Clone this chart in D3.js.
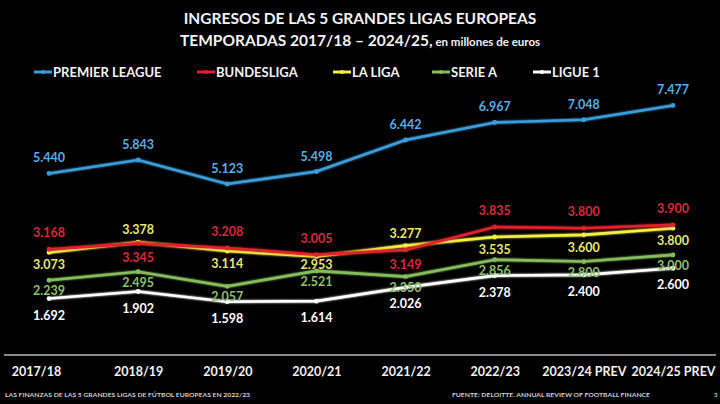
<!DOCTYPE html>
<html><head><meta charset="utf-8">
<script src="https://cdnjs.cloudflare.com/ajax/libs/d3/7.8.5/d3.min.js"></script>
<style>
html,body{margin:0;padding:0;background:#000;}
svg{display:block;}
text{font-family:Lato,"Open Sans",sans-serif;font-weight:700;}
</style></head><body>
<svg id="c" width="720" height="404"></svg>
<script>
const seasons = ["2017/18","2018/19","2019/20","2020/21","2021/22","2022/23","2023/24 PREV","2024/25 PREV"];
const premierLeague = [5440,5843,5123,5498,6442,6967,7048,7477];
const bundesliga    = [3168,3345,3208,3005,3149,3835,3800,3900];
const laLiga        = [3073,3378,3114,2953,3277,3535,3600,3800];
const serieA        = [2239,2495,2057,2521,2350,2856,2800,3000];
const ligue1        = [1692,1902,1598,1614,2026,2378,2400,2600];
const seriesNames = ["PREMIER LEAGUE","BUNDESLIGA","LA LIGA","SERIE A","LIGUE 1"];

// label placement: a = above, b = below, n = near below
const placement = [
  ["a","a","a","a","a","a","a","a"],
  ["a","b","a","a","b","a","a","a"],
  ["b","a","b","n","a","b","b","b"],
  ["b","b","b","b","b","b","b","b"],
  ["b","b","b","b","b","b","b","b"]
];
const style = [
  {line:"#3b9ddc", label:"#5aaee2", above:-11, below:20, near:20},
  {line:"#e0202c", label:"#d8283a", above:-12, below:19, near:19},
  {line:"#f2ef45", label:"#e6e674", above:-8,  below:17, near:13},
  {line:"#86bd5c", label:"#8dc06a", above:-10, below:15, near:15},
  {line:"#ffffff", label:"#ffffff", above:-10, below:21, near:21}
];
const allSeries = [premierLeague,bundesliga,laLiga,serieA,ligue1];
const offKey = {a:"above", b:"below", n:"near"};

const fmt = v => { const s = String(v); return s.length>3 ? s.slice(0,s.length-3)+"."+s.slice(-3) : s; };

const svg = d3.select("#c");
svg.append("rect").attr("width",720).attr("height",404).attr("fill","#000");

const defs = svg.append("defs");
const f = defs.append("filter").attr("id","glow").attr("x","-10%").attr("y","-50%").attr("width","120%").attr("height","200%");
f.append("feGaussianBlur").attr("stdDeviation",1.2).attr("result","b");
const m = f.append("feMerge"); m.append("feMergeNode").attr("in","b"); m.append("feMergeNode").attr("in","SourceGraphic");

// Title
const t = svg.append("g").attr("fill","#f2f2f2").attr("text-anchor","middle");
t.append("text").attr("x",360).attr("y",24).attr("font-size",15.5).text("INGRESOS DE LAS 5 GRANDES LIGAS EUROPEAS");
const t2 = t.append("text").attr("x",360).attr("y",46).attr("font-size",15.5);
t2.append("tspan").text("TEMPORADAS 2017/18 – 2024/25,");
t2.append("tspan").attr("font-size",11.5).text(" en millones de euros");

// Scales
const x = d3.scalePoint().domain(seasons).range([49,673]);
const y = d3.scaleLinear().domain([0,8000]).range([355,88]);

// axis line
svg.append("line").attr("x1",4).attr("x2",716).attr("y1",y(0)).attr("y2",y(0)).attr("stroke","#8a8a8a").attr("stroke-width",2);

// x axis labels
const xAxis = d3.axisBottom(x).tickSize(0).tickPadding(0);
const gx = svg.append("g").attr("transform","translate(0,367)").call(xAxis);
gx.select(".domain").remove();
gx.selectAll("text").attr("fill","#f2f2f2").attr("font-size",12.5).attr("font-family","Lato,sans-serif").attr("font-weight",700);
gx.selectAll(".tick").filter(d=>d==="2017/18").select("text").attr("dx",-13);

// Legend
const legX = [34,197,333,432,533];
const leg = svg.append("g").attr("transform","translate(0,72)");
seriesNames.forEach((n,i)=>{
  const g = leg.append("g").attr("transform",`translate(${legX[i]},0)`);
  g.append("line").attr("x1",0).attr("x2",18).attr("y1",0).attr("y2",0).attr("stroke",style[i].line).attr("stroke-width",3);
  g.append("circle").attr("cx",9).attr("cy",0).attr("r",2).attr("fill",style[i].line);
  g.append("text").attr("x",19).attr("y",4.5).attr("font-size",13).attr("fill","#f2f2f2").text(n);
});

// Lines (draw bottom-up so premier/bundes on top)
const line = d3.line().x((d,i)=>x(seasons[i])).y(d=>y(d));
const order = [4,3,2,1,0];
order.forEach(si=>{
  const data = allSeries[si];
  svg.append("path").datum(data).attr("d",line).attr("fill","none")
    .attr("stroke",style[si].line).attr("stroke-width",2.6).attr("filter","url(#glow)");
  svg.append("g").selectAll("circle").data(data).join("circle")
    .attr("cx",(d,i)=>x(seasons[i])).attr("cy",d=>y(d)).attr("r",2.4).attr("fill",style[si].line);
});
order.forEach(si=>{
  const data = allSeries[si];
  svg.append("g").selectAll("text").data(data).join("text")
    .attr("x",(d,i)=>x(seasons[i]))
    .attr("y",(d,i)=>y(d)+style[si][offKey[placement[si][i]]])
    .attr("text-anchor","middle").attr("font-size",12.5).attr("fill",style[si].label)
    .text(d=>fmt(d));
});

// footer
svg.append("text").attr("x",5).attr("y",397).attr("font-size",5.3).attr("fill","#cfcfcf").attr("font-weight",400)
  .attr("textLength",245).attr("lengthAdjust","spacingAndGlyphs")
  .text("LAS FINANZAS DE LAS 5 GRANDES LIGAS DE FÚTBOL EUROPEAS EN 2022/23");
svg.append("text").attr("x",452).attr("y",397).attr("font-size",5.5).attr("fill","#cfcfcf").attr("font-weight",400)
  .attr("textLength",198).attr("lengthAdjust","spacingAndGlyphs")
  .text("FUENTE: DELOITTE. ANNUAL REVIEW OF FOOTBALL FINANCE");
svg.append("text").attr("x",714).attr("y",397).attr("font-size",6).attr("fill","#cfcfcf").attr("font-weight",400).text("3");
</script>
</body></html>
